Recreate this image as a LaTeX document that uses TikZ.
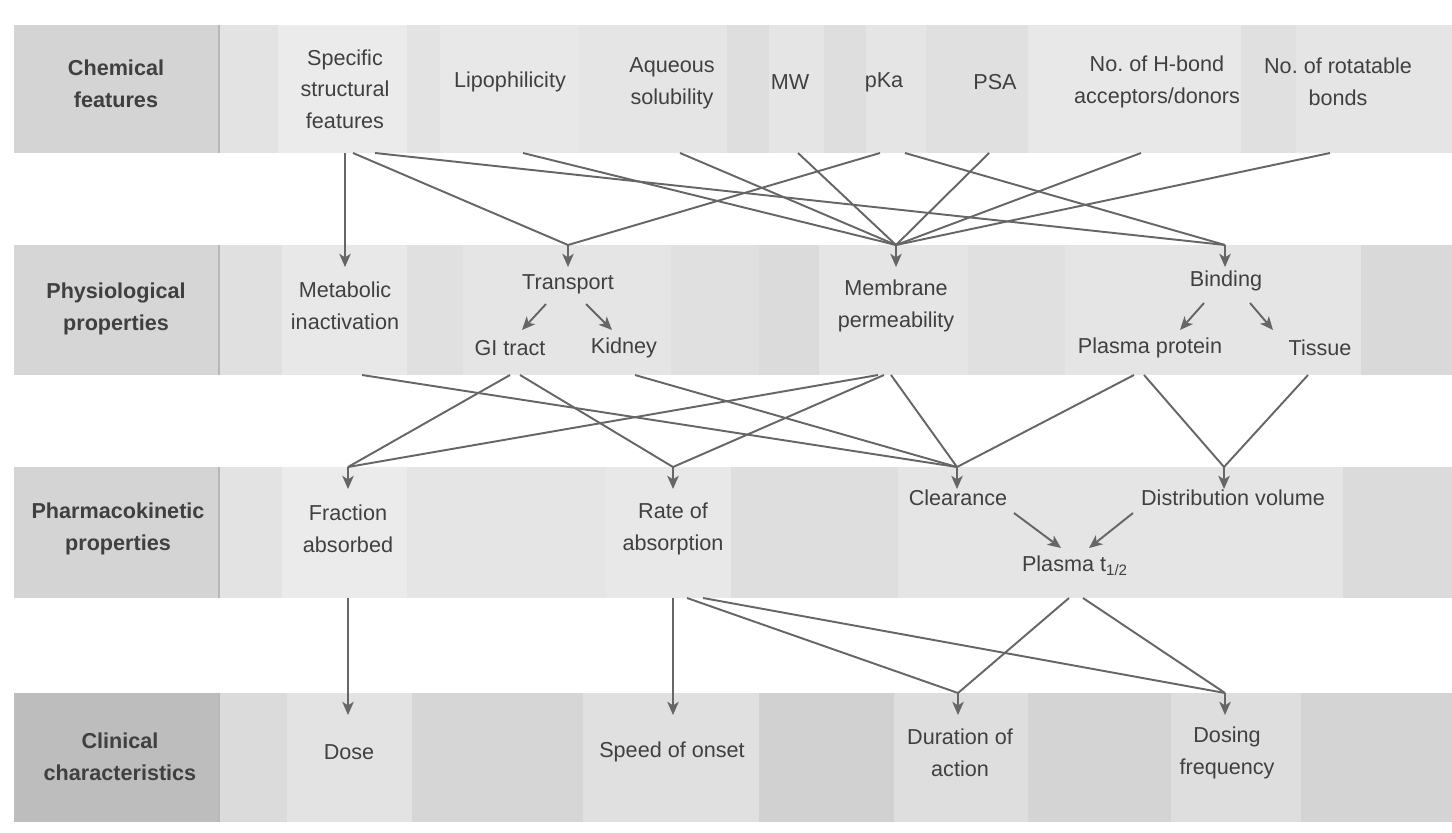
\documentclass[tikz,border=0pt]{standalone}
\usepackage{fontspec}
\setmainfont{Liberation Sans}
\usepackage{xcolor}
\usetikzlibrary{positioning,arrows.meta,calc}
\definecolor{inkgrey}{HTML}{404040}
\definecolor{linegrey}{HTML}{666666}

\begin{document}
\begin{tikzpicture}[x=0.02cm, y=-0.02cm,
    >={Stealth[length=7.5pt,width=6.5pt,inset=2pt]},
    every node/.style={font=\fontsize{12.3}{18}\selectfont, align=center, text=inkgrey, inner sep=0pt},
    head/.style={font=\fontsize{12.3}{18}\selectfont\bfseries},
    link/.style={draw=linegrey, line width=1.1pt, line join=round},
    arrowline/.style={link, ->}]
  \useasboundingbox (0,0) rectangle (1452,832);
  \def\stem{22}

  % bands
  \foreach \ya/\yb in {25/153, 245/375, 467/598, 693/822}
    \fill[black!10] (14,\ya) rectangle (1452,\yb);
  \foreach \xa/\xb/\g in {219/278/11, 278/407/8, 407/440/11, 440/579/9, 579/727/10, 727/769/13,
      769/824/10, 824/866/13, 866/926/10, 926/1028/12, 1028/1241/9, 1241/1296/12, 1296/1452/10}
    \fill[black!\g] (\xa,25) rectangle (\xb,153);
  \foreach \xa/\xb/\g in {219/282/12, 282/407/9, 407/463/12, 463/671/10, 671/759/12, 759/819/14,
      819/968/10, 968/1065/12, 1065/1361/10, 1361/1452/15}
    \fill[black!\g] (\xa,245) rectangle (\xb,375);
  \foreach \xa/\xb/\g in {219/282/11, 282/407/8, 407/606/10, 606/731/9, 731/898/13, 898/1343/10,
      1343/1452/14}
    \fill[black!\g] (\xa,467) rectangle (\xb,598);
  \foreach \xa/\xb/\g in {219/287/14, 287/412/11, 412/583/16, 583/759/12, 759/894/18, 894/1028/13,
      1028/1171/17, 1171/1301/13, 1301/1452/17}
    \fill[black!\g] (\xa,693) rectangle (\xb,822);
  \fill[black!17] (14,25) rectangle (219,153);
  \fill[black!16] (14,245) rectangle (219,375);
  \fill[black!17] (14,467) rectangle (219,598);
  \fill[black!26] (14,693) rectangle (219,822);
  \foreach \ya/\yb in {25/153, 245/375, 467/598, 693/822}
    \draw[black!28, line width=0.6pt] (219,\ya) -- (219,\yb);

  \coordinate (Abot) at (0,153);
  \coordinate (Btop) at (0,245);
  \coordinate (Bbot) at (0,375);
  \coordinate (Ctop) at (0,467);
  \coordinate (Cbot) at (0,598);
  \coordinate (Dtop) at (0,693);

  % chemical features
  \node[head] (chem) at (116,84) {Chemical\\features};
  \node (sf) at (345,89) {Specific\\structural\\features};
  \node (lip) at (510,82) {Lipophilicity};
  \node (aq) at (672,83) {Aqueous\\solubility};
  \node (mw) at (790,82) {MW};
  \node (pka) at (884,82) {pKa};
  \node (psa) at (995,82) {PSA};
  \node (hb) at (1157,82) {No.\ of H-bond\\acceptors/donors};
  \node (rot) at (1338,82) {No.\ of rotatable\\bonds};

  % physiological properties
  \node[head] (phys) at (116,309) {Physiological\\properties};
  \node (meta) at (345,306) {Metabolic\\inactivation};
  \node (trans) at (568,284) {Transport};
  \node (gi) at (510,348) {GI tract};
  \node (kid) at (624,348) {Kidney};
  \node (memb) at (896,306) {Membrane\\permeability};
  \node (bind) at (1226,281) {Binding};
  \node (pp) at (1150,348) {Plasma protein};
  \node (tis) at (1320,348) {Tissue};

  % pharmacokinetic properties
  \node[head] (pk) at (118,529) {Pharmacokinetic\\properties};
  \node (frac) at (348,529) {Fraction\\absorbed};
  \node (rate) at (673,529) {Rate of\\absorption};
  \node (clear) at (958,498) {Clearance};
  \node (dist) at (1233,498) {Distribution volume};
  \node (plasma) at (1075,566) {Plasma t\textsubscript{1/2}};

  % clinical characteristics
  \node[head] (clin) at (120,757) {Clinical\\characteristics};
  \node (dose) at (349,752) {Dose};
  \node (speed) at (672,752) {Speed of onset};
  \node (dur) at (960,753) {Duration of\\action};
  \node (dosing) at (1227,753) {Dosing\\frequency};

  \coordinate (transIn) at (trans |- Btop);
  \coordinate (membIn) at (memb |- Btop);
  \coordinate (bindIn) at ($(bind |- Btop)+(-1,0)$);
  \coordinate (fracIn) at (frac |- Ctop);
  \coordinate (rateIn) at (rate |- Ctop);
  \coordinate (clearIn) at ($(clear |- Ctop)+(-1,0)$);
  \coordinate (distIn) at ($(dist |- Ctop)+(-9,0)$);
  \coordinate (durIn) at ($(dur |- Dtop)+(-2,0)$);
  \coordinate (dosingIn) at ($(dosing |- Dtop)+(-2,0)$);

  % chemical -> physiological
  \draw[arrowline] (sf |- Abot) -- ($(meta |- Btop)+(0,\stem)$);
  \draw[link] ($(sf |- Abot)+(8,0)$) -- (transIn);
  \draw[link] ($(pka |- Abot)+(-4,0)$) -- (transIn);
  \draw[link] ($(sf |- Abot)+(30,0)$) -- (bindIn);
  \draw[link] ($(pka |- Abot)+(21,0)$) -- (bindIn);
  \foreach \src/\dx in {lip/13, aq/8, mw/8, psa/-6, hb/-16, rot/-8}
    \draw[link] ($(\src |- Abot)+(\dx,0)$) -- (membIn);
  \foreach \pt in {transIn, membIn, bindIn}
    \draw[arrowline] (\pt) -- ++(0,\stem);

  \draw[arrowline] ($(trans)+(-22,20)$) -- ($(gi)+(12,-18)$);
  \draw[arrowline] ($(trans)+(18,20)$) -- ($(kid)+(-12,-18)$);
  \draw[arrowline] ($(bind)+(-22,22)$) -- ($(pp)+(30,-18)$);
  \draw[arrowline] ($(bind)+(24,22)$) -- ($(tis)+(-47,-18)$);

  % physiological -> pharmacokinetic
  \draw[link] (gi |- Bbot) -- (fracIn);
  \draw[link] ($(memb |- Bbot)+(-18,0)$) -- (fracIn);
  \draw[link] ($(gi |- Bbot)+(10,0)$) -- (rateIn);
  \draw[link] ($(memb |- Bbot)+(-12,0)$) -- (rateIn);
  \draw[link] ($(meta |- Bbot)+(17,0)$) -- (clearIn);
  \draw[link] ($(kid |- Bbot)+(11,0)$) -- (clearIn);
  \draw[link] ($(memb |- Bbot)+(-5,0)$) -- (clearIn);
  \draw[link] ($(pp |- Bbot)+(-16,0)$) -- (clearIn);
  \draw[link] ($(pp |- Bbot)+(-6,0)$) -- (distIn);
  \draw[link] ($(tis |- Bbot)+(-12,0)$) -- (distIn);
  \foreach \pt in {fracIn, rateIn, clearIn, distIn}
    \draw[arrowline] (\pt) -- ++(0,\stem);

  \draw[arrowline] ($(clear)+(56,15)$) -- ($(plasma)+(-14,-18)$);
  \draw[arrowline] ($(dist)+(-100,15)$) -- ($(plasma)+(14,-18)$);

  % pharmacokinetic -> clinical
  \draw[arrowline] (frac |- Cbot) -- ($(dose |- Dtop)+(-1,\stem)$);
  \draw[arrowline] (rate |- Cbot) -- ($(rate |- Dtop)+(0,\stem)$);
  \draw[link] ($(rate |- Cbot)+(14,0)$) -- (durIn);
  \draw[link] ($(rate |- Cbot)+(30,0)$) -- (dosingIn);
  \draw[link] ($(plasma |- Cbot)+(-6,0)$) -- (durIn);
  \draw[link] ($(plasma |- Cbot)+(8,0)$) -- (dosingIn);
  \foreach \pt in {durIn, dosingIn}
    \draw[arrowline] (\pt) -- ++(0,\stem);
\end{tikzpicture}
\end{document}
